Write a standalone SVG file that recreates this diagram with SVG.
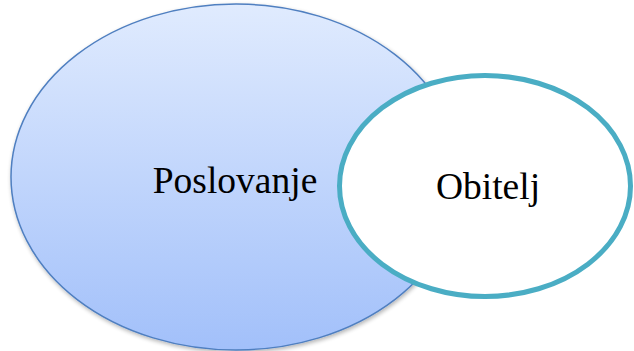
<svg xmlns="http://www.w3.org/2000/svg" width="634" height="351" viewBox="0 0 634 351">
  <defs>
    <linearGradient id="blueGrad" x1="0" y1="0" x2="0" y2="1">
      <stop offset="0" stop-color="#e0ebfe"/>
      <stop offset="1" stop-color="#a2c0fa"/>
    </linearGradient>
    <filter id="shadow" x="-10%" y="-10%" width="120%" height="120%">
      <feGaussianBlur in="SourceAlpha" stdDeviation="2"/>
      <feOffset dx="1" dy="2" result="b"/>
      <feComponentTransfer><feFuncA type="linear" slope="0.3"/></feComponentTransfer>
      <feMerge><feMergeNode/><feMergeNode in="SourceGraphic"/></feMerge>
    </filter>
  </defs>
  <style>
    .lbl { font-family: "Liberation Serif", "Times New Roman", serif; font-size: 37.5px; fill: #000; text-anchor: middle; }
  </style>
  <rect width="634" height="351" fill="#ffffff"/>
  <g id="connectors"></g>
  <g id="poslovanje">
    <ellipse cx="236" cy="177" rx="225" ry="173" fill="url(#blueGrad)" stroke="#4f7fc0" stroke-width="1.5" filter="url(#shadow)"/>
    <text class="lbl" x="235" y="193">Poslovanje</text>
  </g>
  <g id="obitelj">
    <ellipse cx="485" cy="186" rx="145.5" ry="110.5" fill="#ffffff" stroke="#4aadc4" stroke-width="5"/>
    <text class="lbl" x="488" y="199">Obitelj</text>
  </g>
</svg>
